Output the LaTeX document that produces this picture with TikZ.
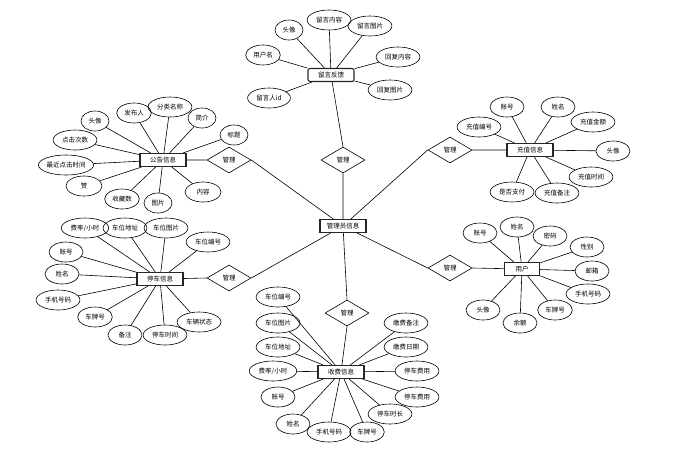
\documentclass[tikz,border=0pt]{standalone}
\usepackage{fontspec}
\usepackage{xcolor}
\usetikzlibrary{shapes.geometric}
\newfontfamily\cjk{Noto Sans CJK SC}

\begin{document}
\begin{tikzpicture}[
		x=1pt, y=-1pt,
		attr/.style={ellipse,draw,line width=0.6pt,minimum height=20pt,minimum width=28pt,inner xsep=2.5pt,inner ysep=1pt},
		entity/.style={rectangle,draw=black!85,line width=1.1pt,minimum width=46pt,minimum height=13pt,inner sep=1pt},
		rel/.style={diamond,draw,line width=0.6pt,minimum width=44pt,minimum height=26pt,inner sep=0pt},
		every node/.style = {font=\cjk\fontsize{6.5}{7}\selectfont},
		link/.style = {line width=0.6pt}
		]
		\useasboundingbox (0,0) rectangle (679,459);
		% entities
		\node[entity] (gly) at (343,226) {管理员信息};
		\node[entity,rounded corners=2pt] (fk) at (331,75) {留言反馈};
		\node[entity] (gg) at (163,160) {公告信息};
		\node[entity] (tc) at (160,279) {停车信息};
		\node[entity] (cz) at (530,150) {充值信息};
		\node[entity,minimum width=35pt] (yh) at (522,269) {用户};
		\node[entity] (sf) at (341,372) {收费信息};
		% relations
		\node[rel] (glfk) at (343,160) {管理};
		\node[rel] (glgg) at (229,160) {管理};
		\node[rel] (gltc) at (229,278) {管理};
		\node[rel] (glcz) at (450,150) {管理};
		\node[rel] (glyh) at (450,268) {管理};
		\node[rel] (glsf) at (347,313) {管理};
		% feedback
		\node[attr] (fk1) at (289,30) {头像};
		\node[attr] (fk2) at (329,20) {留言内容};
		\node[attr] (fk3) at (370,26) {留言图片};
		\node[attr] (fk4) at (263,55) {用户名};
		\node[attr] (fk5) at (398,57) {回复内容};
		\node[attr] (fk6) at (390,90) {回复图片};
		\node[attr] (fk7) at (269,98) {留言人id};
		% notice
		\node[attr] (gg1) at (95,121) {头像};
		\node[attr] (gg2) at (134,113) {发布人};
		\node[attr] (gg3) at (170,107) {分类名称};
		\node[attr] (gg4) at (202,118) {简介};
		\node[attr] (gg5) at (234,135) {标题};
		\node[attr] (gg6) at (75,140) {点击次数};
		\node[attr,inner xsep=0pt] (gg7) at (66,165) {最近点击时间};
		\node[attr,minimum width=36pt] (gg8) at (84,186) {赞};
		\node[attr] (gg9) at (122,199) {收藏数};
		\node[attr] (gg10) at (158,203) {图片};
		\node[attr,minimum width=36pt] (gg11) at (203,192) {内容};
		% parking
		\node[attr] (tc1) at (85,228) {费率/小时};
		\node[attr] (tc2) at (125,228) {车位地址};
		\node[attr] (tc3) at (166,228) {车位图片};
		\node[attr] (tc4) at (208,242) {车位编号};
		\node[attr,minimum width=34pt] (tc5) at (66,252) {账号};
		\node[attr,minimum width=34pt] (tc6) at (62,274) {姓名};
		\node[attr] (tc7) at (58,300) {手机号码};
		\node[attr,minimum width=34pt] (tc8) at (95,317) {车牌号};
		\node[attr,minimum width=34pt] (tc9) at (125,335) {备注};
		\node[attr] (tc10) at (165,335) {停车时间};
		\node[attr] (tc11) at (199,322) {车辆状态};
		% recharge
		\node[attr,minimum width=34pt] (cz1) at (507,107) {账号};
		\node[attr,minimum width=34pt] (cz2) at (558,107) {姓名};
		\node[attr] (cz3) at (479,127) {充值编号};
		\node[attr] (cz4) at (593,122) {充值金额};
		\node[attr,minimum width=34pt] (cz5) at (613,151) {头像};
		\node[attr] (cz6) at (591,177) {充值时间};
		\node[attr] (cz7) at (512,192) {是否支付};
		\node[attr] (cz8) at (557,193) {充值备注};
		% user
		\node[attr,minimum width=34pt] (yh1) at (480,233) {账号};
		\node[attr,minimum width=34pt] (yh2) at (517,227) {姓名};
		\node[attr,minimum width=34pt] (yh3) at (550,236) {密码};
		\node[attr,minimum width=34pt] (yh4) at (587,247) {性别};
		\node[attr,minimum width=34pt] (yh5) at (592,271) {邮箱};
		\node[attr] (yh6) at (588,294) {手机号码};
		\node[attr,minimum width=34pt] (yh7) at (555,310) {车牌号};
		\node[attr,minimum width=34pt] (yh8) at (520,323) {余额};
		\node[attr,minimum width=34pt] (yh9) at (483,310) {头像};
		% charge
		\node[attr] (sf1) at (278,297) {车位编号};
		\node[attr] (sf2) at (278,323) {车位图片};
		\node[attr] (sf3) at (278,347) {车位地址};
		\node[attr] (sf4) at (273,371) {费率/小时};
		\node[attr,minimum width=34pt] (sf5) at (278,397) {账号};
		\node[attr,minimum width=34pt] (sf6) at (293,424) {姓名};
		\node[attr] (sf7) at (329,432) {手机号码};
		\node[attr,minimum width=34pt] (sf8) at (367,432) {车牌号};
		\node[attr] (sf9) at (390,414) {停车时长};
		\node[attr] (sf10) at (406,323) {缴费备注};
		\node[attr] (sf11) at (406,347) {缴费日期};
		\node[attr] (sf12) at (417,371) {停车费用};
		\node[attr] (sf13) at (417,397) {停车费用};
		% relation lines
		\draw[link] (fk) -- (glfk.north) (glfk.south) -- (gly);
		\draw[link] (gg) -- (glgg.west) (glgg.east) -- (gly);
		\draw[link] (tc) -- (gltc.west) (gltc.east) -- (gly);
		\draw[link] (cz) -- (glcz.east) (glcz.west) -- (gly);
		\draw[link] (yh) -- (glyh.east) (glyh.west) -- (gly);
		\draw[link] (gly) -- (glsf.north) (glsf.south) -- (sf);
		% attribute lines
		\draw[link] (fk) edge (fk1) edge (fk2) edge (fk3) edge (fk4) edge (fk5) edge (fk6) edge (fk7);
		\draw[link] (gg) edge (gg1) edge (gg2) edge (gg3) edge (gg4) edge (gg5) edge (gg6)
			edge (gg7) edge (gg8) edge (gg9) edge (gg10) edge (gg11);
		\draw[link] (tc) edge (tc1) edge (tc2) edge (tc3) edge (tc4) edge (tc5) edge (tc6)
			edge (tc7) edge (tc8) edge (tc9) edge (tc10) edge (tc11);
		\draw[link] (cz) edge (cz1) edge (cz2) edge (cz3) edge (cz4) edge (cz5) edge (cz6)
			edge (cz7) edge (cz8);
		\draw[link] (yh) edge (yh1) edge (yh2) edge (yh3) edge (yh4) edge (yh5) edge (yh6)
			edge (yh7) edge (yh8) edge (yh9);
		\draw[link] (sf) edge (sf1) edge (sf2) edge (sf3) edge (sf4) edge (sf5) edge (sf6)
			edge (sf7) edge (sf8) edge (sf9) edge (sf10) edge (sf11) edge (sf12) edge (sf13);
	\end{tikzpicture}
\end{document}
